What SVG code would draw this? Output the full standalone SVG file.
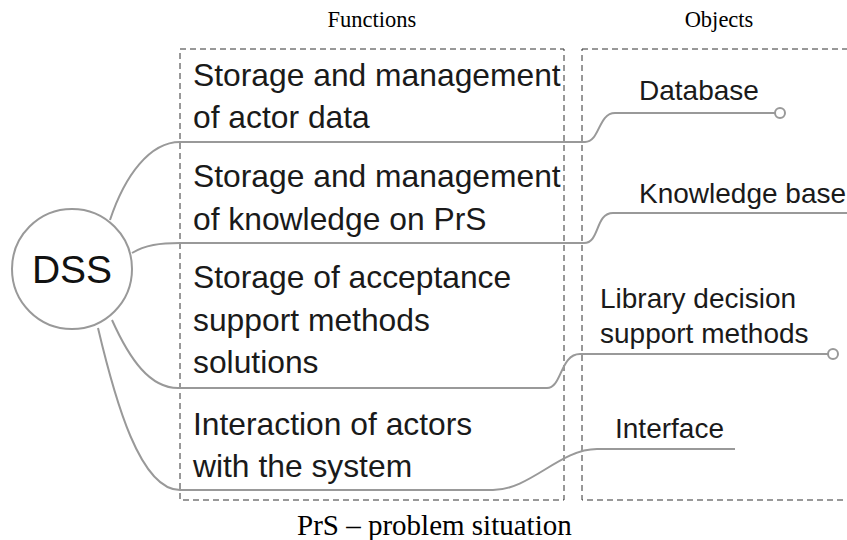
<svg xmlns="http://www.w3.org/2000/svg" width="847" height="540" viewBox="0 0 847 540">
<style>
.box{fill:none;stroke:#333;stroke-width:1;stroke-dasharray:6,4}
.ttl{font-family:"Liberation Serif",serif;font-size:22.5px;fill:#000}
.fn{font-family:"Liberation Sans",Arial,sans-serif;font-size:31.8px;fill:#1a1a1a}
.ob{font-family:"Liberation Sans",Arial,sans-serif;font-size:28px;fill:#1a1a1a}
.ln{fill:none;stroke:#999;stroke-width:2}
.end{fill:#fff;stroke:#999;stroke-width:2}
</style>
<rect class="box" x="180" y="49" width="384" height="451"/>
<rect class="box" x="582" y="49" width="280" height="451"/>
<text class="ttl" x="372" y="27" text-anchor="middle">Functions</text>
<text class="ttl" x="719" y="27" text-anchor="middle">Objects</text>
<g id="connectors">
<path class="ln" d="M110,220 C125,175 150,142 180,142 L585,142 C600,142 598,113 615,113 L775,113"/>
<path class="ln" d="M132,253 C145,245 160,243 180,243 L584,243 C600,243 595,213 613,213 L847,213"/>
<path class="ln" d="M112,320 C130,360 150,388 178,388 L547,388 C562,388 560,354 580,354 L828,354"/>
<path class="ln" d="M98,328 C115,400 140,490 180,490 L493,490 C530,490 560,449 597,449 L735,449"/>
<circle class="end" cx="780" cy="113" r="5"/>
<circle class="end" cx="833" cy="354" r="5"/>
</g>
<g id="dss">
<circle cx="72" cy="269" r="60" fill="#fff" stroke="#999" stroke-width="2"/>
<text x="72" y="283" text-anchor="middle" font-family="Liberation Sans,Arial,sans-serif" font-size="39" fill="#111">DSS</text>
</g>
<g id="f1"><text class="fn" x="193" y="86">Storage and management</text><text class="fn" x="193" y="128">of actor data</text></g>
<g id="f2"><text class="fn" x="193" y="187">Storage and management</text><text class="fn" x="193" y="230">of knowledge on PrS</text></g>
<g id="f3"><text class="fn" x="193" y="288">Storage of acceptance</text><text class="fn" x="193" y="331">support methods</text><text class="fn" x="193" y="373">solutions</text></g>
<g id="f4"><text class="fn" x="193" y="435">Interaction of actors</text><text class="fn" x="193" y="477">with the system</text></g>
<g id="o1"><text class="ob" x="639" y="100">Database</text></g>
<g id="o2"><text class="ob" x="639" y="203">Knowledge base</text></g>
<g id="o3"><text class="ob" x="600" y="308">Library decision</text><text class="ob" x="600" y="343">support methods</text></g>
<g id="o4"><text class="ob" x="615" y="438">Interface</text></g>
<text x="297" y="535" font-family="Liberation Serif,serif" font-size="29" fill="#000">PrS – problem situation</text>
</svg>
